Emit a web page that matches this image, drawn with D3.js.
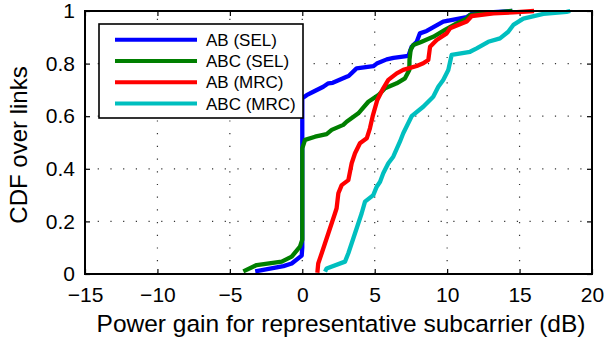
<!DOCTYPE html>
<html lang="en">
<head>
<meta charset="UTF-8" />
<title>CDF of power gain</title>
<script src="https://d3js.org/d3.v7.min.js"></script>
<style>
  body { margin: 0; background: #fff; }
  text { font-family: "Liberation Sans", Arial, Helvetica, sans-serif; fill: #000; }
</style>
</head>
<body>
<script>
// tick values
var xTicks = [-15, -10, -5, 0, 5, 10, 15, 20];
var yTicks = [0, 0.2, 0.4, 0.6, 0.8, 1];

// series names and colours
var seriesNames = ["AB (SEL)", "ABC (SEL)", "AB (MRC)", "ABC (MRC)"];
var seriesColors = ["#0000ff", "#007f00", "#ff0000", "#00bfbf"];

// gain values (dB) and cdf values
var abSelX = [-3.25, -1.3, -0.73, -0.04, 0.0, 0.0, 0.3, 0.76, 1.45, 1.8, 2.1, 3.06, 3.2, 3.64, 3.75, 4.9, 5.14, 5.83, 6.3, 7.32, 7.55, 7.9, 8.12, 8.59, 9.73, 11.35, 11.7, 13.2, 14.5];
var abSelY = [0.01, 0.03, 0.04, 0.07, 0.1, 0.668, 0.68, 0.693, 0.712, 0.725, 0.727, 0.75, 0.753, 0.776, 0.782, 0.79, 0.8, 0.816, 0.822, 0.829, 0.864, 0.883, 0.915, 0.924, 0.96, 0.977, 0.989, 0.996, 1.0];

var abcSelX = [-4.07, -3.15, -1.42, -0.73, -0.16, 0.0, 0.0, 0.19, 0.88, 1.68, 2.03, 2.83, 3.06, 3.87, 4.56, 5.25, 5.71, 6.52, 7.09, 7.39, 7.4, 7.48, 7.66, 8.12, 9.04, 9.85, 10.66, 11.35, 11.58, 13.2, 14.5];
var abcSelY = [0.01, 0.034, 0.047, 0.066, 0.104, 0.13, 0.478, 0.51, 0.522, 0.532, 0.548, 0.567, 0.579, 0.611, 0.655, 0.68, 0.706, 0.725, 0.744, 0.776, 0.814, 0.852, 0.871, 0.88, 0.902, 0.928, 0.953, 0.971, 0.985, 0.994, 1.0];

var abMrcX = [1.04, 1.1, 1.34, 1.57, 1.8, 2.03, 2.26, 2.37, 2.49, 2.72, 3.18, 3.41, 3.64, 3.98, 4.45, 4.67, 4.86, 5.18, 5.59, 5.94, 6.52, 6.97, 7.9, 8.35, 8.7, 8.82, 9.28, 9.97, 10.2, 11.35, 11.7, 13.2, 14.57, 16.0];
var abMrcY = [0.005, 0.04, 0.079, 0.117, 0.155, 0.193, 0.231, 0.25, 0.307, 0.338, 0.357, 0.421, 0.459, 0.497, 0.516, 0.554, 0.6, 0.662, 0.706, 0.738, 0.763, 0.776, 0.791, 0.801, 0.814, 0.864, 0.89, 0.915, 0.934, 0.96, 0.981, 0.991, 0.995, 1.0];

var abcMrcX = [1.57, 1.68, 2.95, 3.18, 3.41, 3.52, 3.64, 3.87, 4.1, 4.33, 4.9, 5.14, 5.37, 5.59, 5.94, 6.28, 6.74, 6.97, 7.55, 8.35, 9.04, 9.39, 9.73, 10.08, 10.31, 11.58, 12.04, 12.84, 13.65, 14.22, 14.57, 15.26, 16.64, 18.25, 18.5];
var abcMrcY = [0.009, 0.021, 0.047, 0.079, 0.117, 0.135, 0.155, 0.193, 0.231, 0.275, 0.3, 0.332, 0.351, 0.383, 0.421, 0.446, 0.503, 0.535, 0.6, 0.636, 0.674, 0.712, 0.738, 0.776, 0.833, 0.845, 0.858, 0.883, 0.896, 0.921, 0.947, 0.971, 0.989, 0.997, 1.0];

var seriesX = [abSelX, abcSelX, abMrcX, abcMrcX];
var seriesY = [abSelY, abcSelY, abMrcY, abcMrcY];

var w = 605;
var h = 343;
var margin = { left: 85, right: 13, top: 11, bottom: 69 };

var xScale = d3.scaleLinear()
	.domain([-15, 20])
	.range([margin.left, w - margin.right]);

var yScale = d3.scaleLinear()
	.domain([0, 1])
	.range([h - margin.bottom, margin.top]);

var svg = d3.select("body")
	.append("svg")
	.attr("width", w)
	.attr("height", h);

// dotted grid
svg.selectAll("line.gx")
	.data(xTicks.slice(1, -1))
	.enter()
	.append("line")
	.attr("class", "gx")
	.attr("x1", function (d) { return xScale(d); })
	.attr("x2", function (d) { return xScale(d); })
	.attr("y1", yScale(0))
	.attr("y2", yScale(1))
	.attr("stroke", "#333")
	.attr("stroke-width", 1.2)
	.attr("stroke-dasharray", "1.2,11.5");

svg.selectAll("line.gy")
	.data(yTicks.slice(1, -1))
	.enter()
	.append("line")
	.attr("class", "gy")
	.attr("x1", xScale(-15))
	.attr("x2", xScale(20))
	.attr("y1", function (d) { return yScale(d); })
	.attr("y2", function (d) { return yScale(d); })
	.attr("stroke", "#333")
	.attr("stroke-width", 1.2)
	.attr("stroke-dasharray", "1.2,11.5");

// axes with inward ticks
var tickLen = 5;
var axisB = svg.append("g")
	.attr("transform", "translate(0," + yScale(0) + ")")
	.call(d3.axisBottom(xScale).tickValues(xTicks).tickSizeInner(-tickLen).tickSizeOuter(0).tickPadding(12));
var axisT = svg.append("g")
	.attr("transform", "translate(0," + yScale(1) + ")")
	.call(d3.axisTop(xScale).tickValues(xTicks).tickSizeInner(-tickLen).tickSizeOuter(0).tickFormat(""));
var axisL = svg.append("g")
	.attr("transform", "translate(" + xScale(-15) + ",0)")
	.call(d3.axisLeft(yScale).tickValues(yTicks).tickSizeInner(-tickLen).tickSizeOuter(0).tickPadding(10)
		.tickFormat(function (d) { return d === 0 || d === 1 ? d : d.toFixed(1); }));
var axisR = svg.append("g")
	.attr("transform", "translate(" + xScale(20) + ",0)")
	.call(d3.axisRight(yScale).tickValues(yTicks).tickSizeInner(-tickLen).tickSizeOuter(0).tickFormat(""));

[axisB, axisT, axisL, axisR].forEach(function (a) {
	a.select(".domain").remove();
	a.selectAll(".tick line").attr("stroke", "#000").attr("stroke-width", 1.2);
	a.selectAll("text")
		.style("font-family", "'Liberation Sans', Arial, sans-serif")
		.style("font-size", "21px")
		.attr("fill", "#000");
});
axisB.selectAll("text").attr("dy", "0.78em");

// curves
var line = d3.line()
	.x(function (d) { return xScale(d[0]); })
	.y(function (d) { return yScale(d[1]); });

seriesX.forEach(function (xs, i) {
	var pts = xs.map(function (v, j) { return [v, seriesY[i][j]]; });
	svg.append("path")
		.datum(pts)
		.attr("d", line)
		.attr("fill", "none")
		.attr("stroke", seriesColors[i])
		.attr("stroke-width", 4.3)
		.attr("stroke-linejoin", "round");
});

// box
svg.append("rect")
	.attr("x", xScale(-15))
	.attr("y", yScale(1))
	.attr("width", xScale(20) - xScale(-15))
	.attr("height", yScale(0) - yScale(1))
	.attr("fill", "none")
	.attr("stroke", "#000")
	.attr("stroke-width", 2);

// legend
var legend = svg.append("g").attr("transform", "translate(99,24)");
legend.append("rect")
	.attr("width", 204)
	.attr("height", 94)
	.attr("fill", "#fff")
	.attr("stroke", "#000")
	.attr("stroke-width", 1.6);

legend.selectAll("line.leg")
	.data(seriesNames)
	.enter()
	.append("line")
	.attr("x1", 16)
	.attr("x2", 98)
	.attr("y1", function (d, i) { return 15.7 + i * 21.3; })
	.attr("y2", function (d, i) { return 15.7 + i * 21.3; })
	.attr("stroke", function (d, i) { return seriesColors[i]; })
	.attr("stroke-width", 4);

legend.selectAll("text.leg")
	.data(seriesNames)
	.enter()
	.append("text")
	.attr("x", 107)
	.attr("y", function (d, i) { return 15.7 + i * 21.3; })
	.attr("dy", "0.36em")
	.style("font-size", "17px")
	.text(function (d) { return d; });

// axis titles
svg.append("text")
	.attr("x", 341)
	.attr("y", 332)
	.attr("text-anchor", "middle")
	.style("font-size", "24.5px")
	.text("Power gain for representative subcarrier (dB)");

svg.append("text")
	.attr("transform", "translate(27,145) rotate(-90)")
	.attr("text-anchor", "middle")
	.style("font-size", "24px")
	.text("CDF over links");
</script>
</body>
</html>
